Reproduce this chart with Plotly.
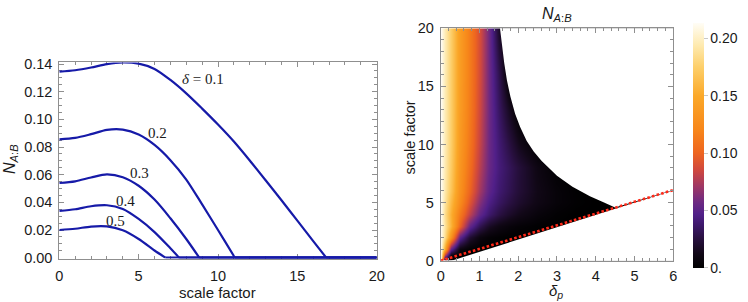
import plotly.graph_objects as go

# ---------------- data: left panel (N_A:B vs scale factor) ----------------
d01_x = [0, 1, 2, 3, 4, 5, 6, 7, 8, 9, 10, 11, 12, 13, 14, 15, 16, 16.82]
d01_y = [0.1345, 0.1355, 0.1375, 0.1400, 0.1412, 0.1403, 0.1365, 0.1285, 0.1188,
         0.1078, 0.0963, 0.0840, 0.0703, 0.0560, 0.0415, 0.0268, 0.0120, 0.0]
d02_x = [0, 1, 2, 3, 4, 5, 6, 7, 8, 9, 10, 11, 11.07]
d02_y = [0.0855, 0.0866, 0.0893, 0.0924, 0.0926, 0.0890, 0.0815, 0.0705, 0.0565,
         0.0385, 0.0200, 0.0012, 0.0]
d03_x = [0, 1, 2, 3, 4, 5, 6, 7, 8, 8.82]
d03_y = [0.0540, 0.0552, 0.0580, 0.0603, 0.0582, 0.0520, 0.0420, 0.0285, 0.0135, 0.0]
d04_x = [0, 1, 2, 3, 4, 5, 6, 7, 7.55]
d04_y = [0.0338, 0.0350, 0.0372, 0.0379, 0.0352, 0.0280, 0.0185, 0.0068, 0.0]
d05_x = [0, 1, 2, 3, 4, 5, 6, 6.68]
d05_y = [0.0200, 0.0209, 0.0225, 0.0226, 0.0198, 0.0135, 0.0052, 0.0]
curve_labels = ["<i>δ</i> = 0.1", "0.2", "0.3", "0.4", "0.5"]

# ---------------- data: right panel (heatmap) ----------------
delta_p = [0, 0.1, 0.25, 0.5, 0.75, 1.0, 1.25, 1.5, 1.75, 2.0, 2.5, 3.0, 3.5, 4.0, 4.5, 5.0, 6.0]
scale_f = [0, 0.5, 1, 2, 3, 4, 5, 6, 8, 10, 13, 16, 20]
n_s00 = [0.213, 0, 0, 0, 0, 0, 0, 0, 0, 0, 0, 0, 0, 0, 0, 0, 0]
n_s05 = [0.213, 0.078, 0.008, 0, 0, 0, 0, 0, 0, 0, 0, 0, 0, 0, 0, 0, 0]
n_s1 = [0.213, 0.150, 0.052, 0.008, 0.0015, 0, 0, 0, 0, 0, 0, 0, 0, 0, 0, 0, 0]
n_s2 = [0.213, 0.185, 0.132, 0.052, 0.021, 0.008, 0.0035, 0.0015, 0.0005, 0, 0, 0, 0, 0, 0, 0, 0]
n_s3 = [0.213, 0.190, 0.158, 0.100, 0.053, 0.030, 0.017, 0.010, 0.006, 0.0035, 0.001, 0, 0, 0, 0, 0, 0]
n_s4 = [0.213, 0.186, 0.155, 0.113, 0.080, 0.053, 0.038, 0.027, 0.019, 0.013, 0.006, 0.002, 0, 0, 0, 0, 0]
n_s5 = [0.213, 0.190, 0.162, 0.125, 0.092, 0.064, 0.046, 0.035, 0.027, 0.020, 0.011, 0.005, 0.0015, 0, 0, 0, 0]
n_s6 = [0.213, 0.193, 0.169, 0.130, 0.100, 0.072, 0.052, 0.039, 0.031, 0.023, 0.012, 0.005, 0.001, 0, 0, 0, 0]
n_s8 = [0.213, 0.195, 0.173, 0.134, 0.106, 0.078, 0.056, 0.042, 0.033, 0.024, 0.010, 0.002, 0, 0, 0, 0, 0]
n_s10 = [0.213, 0.196, 0.175, 0.137, 0.110, 0.082, 0.057, 0.040, 0.027, 0.014, 0, 0, 0, 0, 0, 0, 0]
n_s13 = [0.213, 0.196, 0.175, 0.139, 0.113, 0.085, 0.058, 0.035, 0.016, 0, 0, 0, 0, 0, 0, 0, 0]
n_s16 = [0.213, 0.196, 0.175, 0.140, 0.114, 0.087, 0.058, 0.030, 0, 0, 0, 0, 0, 0, 0, 0, 0]
n_s20 = [0.213, 0.196, 0.175, 0.140, 0.114, 0.088, 0.058, 0.018, 0, 0, 0, 0, 0, 0, 0, 0, 0]
n_grid = [n_s00, n_s05, n_s1, n_s2, n_s3, n_s4, n_s5, n_s6, n_s8, n_s10, n_s13, n_s16, n_s20]

# upper edge of the coloured region (delta_p, scale factor)
edge_delta = [1.53, 1.58, 1.64, 1.71, 1.80, 1.92, 2.05, 2.22, 2.40, 2.60, 3.00, 3.40, 3.85, 4.20, 4.50]
edge_scale = [20.0, 18.5, 17.0, 15.5, 14.1, 12.65, 11.5, 10.3, 9.4, 8.6, 7.32, 6.36, 5.55, 5.02, 4.57]
# red dotted line
line_delta = [0, 6]
line_scale = [0, 6.08]

cbar_vals = [0, 0.05, 0.10, 0.15, 0.20]
cbar_text = ["0.", "0.05", "0.10", "0.15", "0.20"]

# ---------------- figure ----------------
W, H = 748, 302
def fx(p): return p / W
def fy(p): return 1 - p / H

BLUE = "rgb(22,26,168)"
FRAME = "#8f8f8f"
TXT = "#1a1a1a"
SANS = "Liberation Sans, Arial, sans-serif"
SERIF = "Liberation Serif, Times New Roman, serif"

fig = go.Figure()

curves = [(d01_x, d01_y), (d02_x, d02_y), (d03_x, d03_y), (d04_x, d04_y), (d05_x, d05_y)]
X_MAX_L = 20
for cx, cy in curves:
    fig.add_trace(go.Scatter(x=cx, y=cy, mode="lines",
                             line=dict(color=BLUE, width=2.2, shape="spline", smoothing=0.8),
                             xaxis="x", yaxis="y", showlegend=False, hoverinfo="skip"))
    fig.add_trace(go.Scatter(x=[cx[-1], X_MAX_L], y=[cy[-1], cy[-1]], mode="lines",
                             line=dict(color=BLUE, width=2.2), xaxis="x", yaxis="y",
                             showlegend=False, hoverinfo="skip"))

colorscale = [
    [0.0, "#000000"], [0.06, "#120818"], [0.12, "#28103f"], [0.18, "#3f196e"],
    [0.22, "#512089"], [0.27, "#6e2a82"], [0.33, "#9c3666"], [0.40, "#d0483e"],
    [0.47, "#ee6520"], [0.56, "#f7851a"], [0.70, "#fba828"], [0.82, "#fdcf6a"],
    [0.91, "#feeab0"], [1.0, "#fffdf6"],
]
fig.add_trace(go.Heatmap(
    x=delta_p, y=scale_f, z=n_grid, zsmooth="best", colorscale=colorscale,
    zmin=0, zmax=0.2135, xaxis="x2", yaxis="y2", hoverinfo="skip",
    colorbar=dict(x=fx(692.7), xanchor="left", xpad=0, ypad=0,
                  y=fy(145.4), yanchor="middle", len=244.7 / H, lenmode="fraction",
                  thickness=10.6, thicknessmode="pixels", outlinewidth=0,
                  tickvals=cbar_vals, ticktext=cbar_text, ticks="outside", ticklen=4,
                  tickcolor="#c8c8c8", tickfont=dict(family=SANS, size=14, color=TXT)),
))

X_MAX_R, Y_MAX_R = 6, 20
# white area below the dotted line
fig.add_trace(go.Scatter(
    x=[line_delta[0], line_delta[-1] + 0.3, line_delta[-1] + 0.3],
    y=[line_scale[0] - 0.3, line_scale[-1] + 0.3, line_scale[0] - 0.3],
    fill="toself", fillcolor="white", mode="lines", line=dict(width=0),
    xaxis="x2", yaxis="y2", showlegend=False, hoverinfo="skip"))
# white area beyond the upper edge
fig.add_trace(go.Scatter(
    x=edge_delta + [line_delta[-1], X_MAX_R + 0.3, X_MAX_R + 0.3, edge_delta[0]],
    y=edge_scale + [line_scale[-1], line_scale[-1], Y_MAX_R + 0.5, Y_MAX_R + 0.5],
    fill="toself", fillcolor="white", mode="lines", line=dict(width=0),
    xaxis="x2", yaxis="y2", showlegend=False, hoverinfo="skip"))
fig.add_trace(go.Scatter(
    x=line_delta, y=line_scale, mode="lines",
    line=dict(color="#ff2a1a", width=2.6, dash="2.6px,2.2px"),
    xaxis="x2", yaxis="y2", showlegend=False, hoverinfo="skip"))

common = dict(showgrid=False, zeroline=False, showline=True, linecolor=FRAME, linewidth=1,
              mirror="ticks", ticks="inside", tickcolor=FRAME, ticklen=5, tickwidth=1,
              automargin=False, tickfont=dict(family=SANS, size=14.5, color=TXT))

fig.update_layout(
    template="none",
    width=W, height=H, autosize=False, margin=dict(l=0, r=0, t=0, b=0, pad=0),
    paper_bgcolor="white", plot_bgcolor="white", showlegend=False,
    xaxis=dict(domain=[fx(59.3), fx(376.7)], range=[0, 20], dtick=5, tick0=0,
               minor=dict(dtick=1, ticks="inside", ticklen=3, tickcolor=FRAME),
               anchor="y", layer="below traces", ticklabelstandoff=4, **common),
    yaxis=dict(domain=[fy(258.5), fy(62.4)], range=[-0.0006, 0.1412], dtick=0.02, tick0=0,
               tickformat=".2f",
               minor=dict(dtick=0.005, ticks="inside", ticklen=3, tickcolor=FRAME),
               anchor="x", layer="below traces", ticklabelstandoff=3, **common),
    xaxis2=dict(domain=[fx(440.7), fx(673.2)], range=[0, 6], dtick=1, tick0=0,
                minor=dict(dtick=0.2, ticks="inside", ticklen=3, tickcolor=FRAME),
                anchor="y2", layer="above traces", ticklabelstandoff=2, **common),
    yaxis2=dict(domain=[fy(260.7), fy(28.3)], range=[0, 20], dtick=5, tick0=0,
                minor=dict(dtick=1, ticks="inside", ticklen=3, tickcolor=FRAME),
                anchor="x2", layer="above traces", ticklabelstandoff=3, **common),
)

ann = []
label_pos = [(9.07, 0.129), (6.19, 0.090), (5.03, 0.061), (4.15, 0.0411), (3.52, 0.0263)]
for t, (ax_, ay_) in zip(curve_labels, label_pos):
    ann.append(dict(text=t, x=ax_, y=ay_, xref="x", yref="y", showarrow=False,
                    xanchor="center", yanchor="middle",
                    font=dict(family=SERIF, size=15, color=TXT)))
ann += [
    dict(text="scale factor", x=fx(217.7), y=fy(292), xref="paper", yref="paper",
         showarrow=False, font=dict(family=SANS, size=15, color=TXT)),
    dict(text="<i>N</i><sub><i>A</i>:<i>B</i></sub>", x=fx(10), y=fy(159), xref="paper",
         yref="paper", showarrow=False, textangle=-90,
         font=dict(family=SANS, size=16, color=TXT)),
    dict(text="<i>N</i><sub><i>A</i>:<i>B</i></sub>", x=fx(556.7), y=fy(14), xref="paper",
         yref="paper", showarrow=False, font=dict(family=SANS, size=16, color=TXT)),
    dict(text="<i>δ</i><sub><i>p</i></sub>", x=fx(556), y=fy(291), xref="paper",
         yref="paper", showarrow=False, font=dict(family=SANS, size=15, color=TXT)),
    dict(text="scale factor", x=fx(410), y=fy(137.5), xref="paper", yref="paper",
         showarrow=False, textangle=-90, font=dict(family=SANS, size=14.5, color=TXT)),
]
for a in ann[5:]:
    a["xanchor"] = "center"
    a["yanchor"] = "middle"
fig.update_layout(annotations=ann)

fig.write_html("out.html", config={"responsive": False, "displayModeBar": False},
               post_script="document.body.style.margin='0px';document.body.style.overflow='hidden';")
